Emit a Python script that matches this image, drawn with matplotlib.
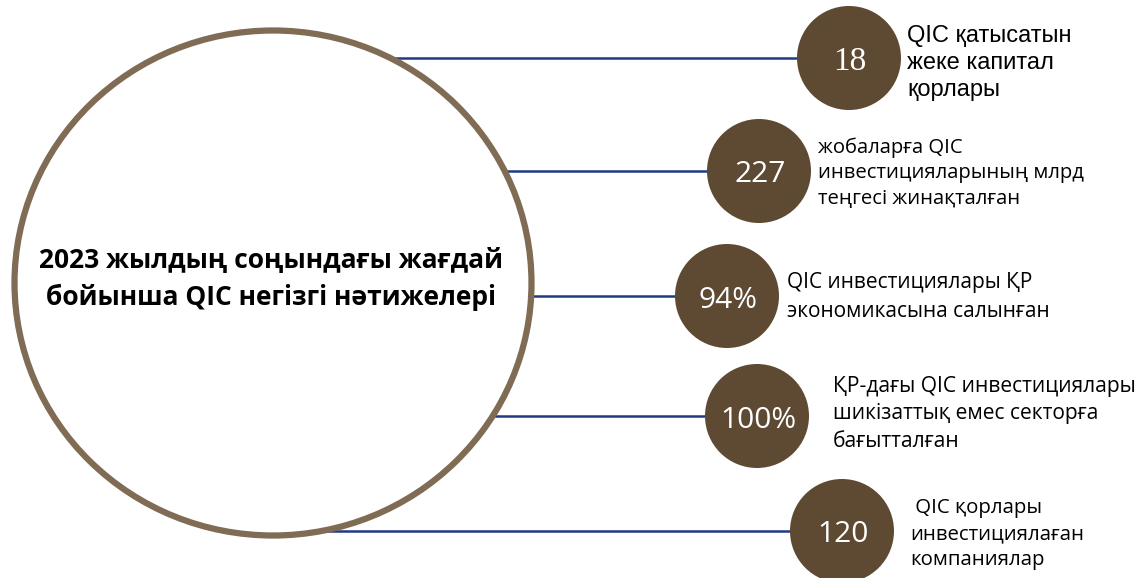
import matplotlib.pyplot as plt
from matplotlib.patches import Ellipse, Circle

#-----------------------------------------
# data
title = "2023 жылдың соңындағы жағдай\nбойынша QIC негізгі нәтижелері"
values = ["18", "227", "94%", "100%", "120"]
labels = [
    "QIC қатысатын\nжеке капитал\nқорлары",
    "жобаларға QIC\nинвестицияларының млрд\nтеңгесі жинақталған",
    "QIC инвестициялары ҚР\nэкономикасына салынған",
    "ҚР-дағы QIC инвестициялары\nшикізаттық емес секторға\nбағытталған",
    " QIC қорлары\nинвестициялаған\nкомпаниялар",
]

# layout (pixels)
bubble_x = [849, 759, 727, 757, 842]
bubble_y = [58, 171, 296, 416, 531]
label_x = [907, 818, 787, 833, 910]
label_y = [63, 173, 297, 414, 534]
label_fs = [17.0, 14.6, 15.0, 15.1, 14.7]
label_ls = [1.27, 1.38, 1.52, 1.4, 1.43]

W, H = 1139, 578
fig = plt.figure(figsize=(W / 100, H / 100), dpi=100)
ax = fig.add_axes([0, 0, 1, 1])
ax.set_xlim(0, W)
ax.set_ylim(H, 0)
ax.axis("off")

brown = "#5e4a32"
ring = "#806c54"
navy = "#1f3a82"

# connector lines
for bx, by in zip(bubble_x, bubble_y):
    ax.plot([300, bx], [by, by], color=navy, lw=1.8, zorder=1)

# big circle
big = Ellipse((273, 283), 517, 505, facecolor="white", edgecolor=ring, lw=4.5, zorder=2)
ax.add_patch(big)
ax.text(271, 279, title, ha="center", va="center", fontsize=19, fontweight="bold",
        family="Open Sans", linespacing=1.45, zorder=3)

# small circles
for i in range(len(values)):
    ax.add_patch(Circle((bubble_x[i], bubble_y[i]), 52, facecolor=brown, edgecolor="none", zorder=3))
    if i == 0:
        fam, fs = "Liberation Serif", 24
    else:
        fam, fs = "Open Sans", 21.5
    ax.text(bubble_x[i] + 1, bubble_y[i] + 4, values[i], ha="center", va="center", color="white",
            fontsize=fs, family=fam, zorder=4)
    fam = "Liberation Sans" if i == 0 else "Open Sans"
    ax.text(label_x[i], label_y[i], labels[i], ha="left", va="center", fontsize=label_fs[i],
            family=fam, linespacing=label_ls[i], zorder=4)

fig.savefig("out.png", dpi=100)
